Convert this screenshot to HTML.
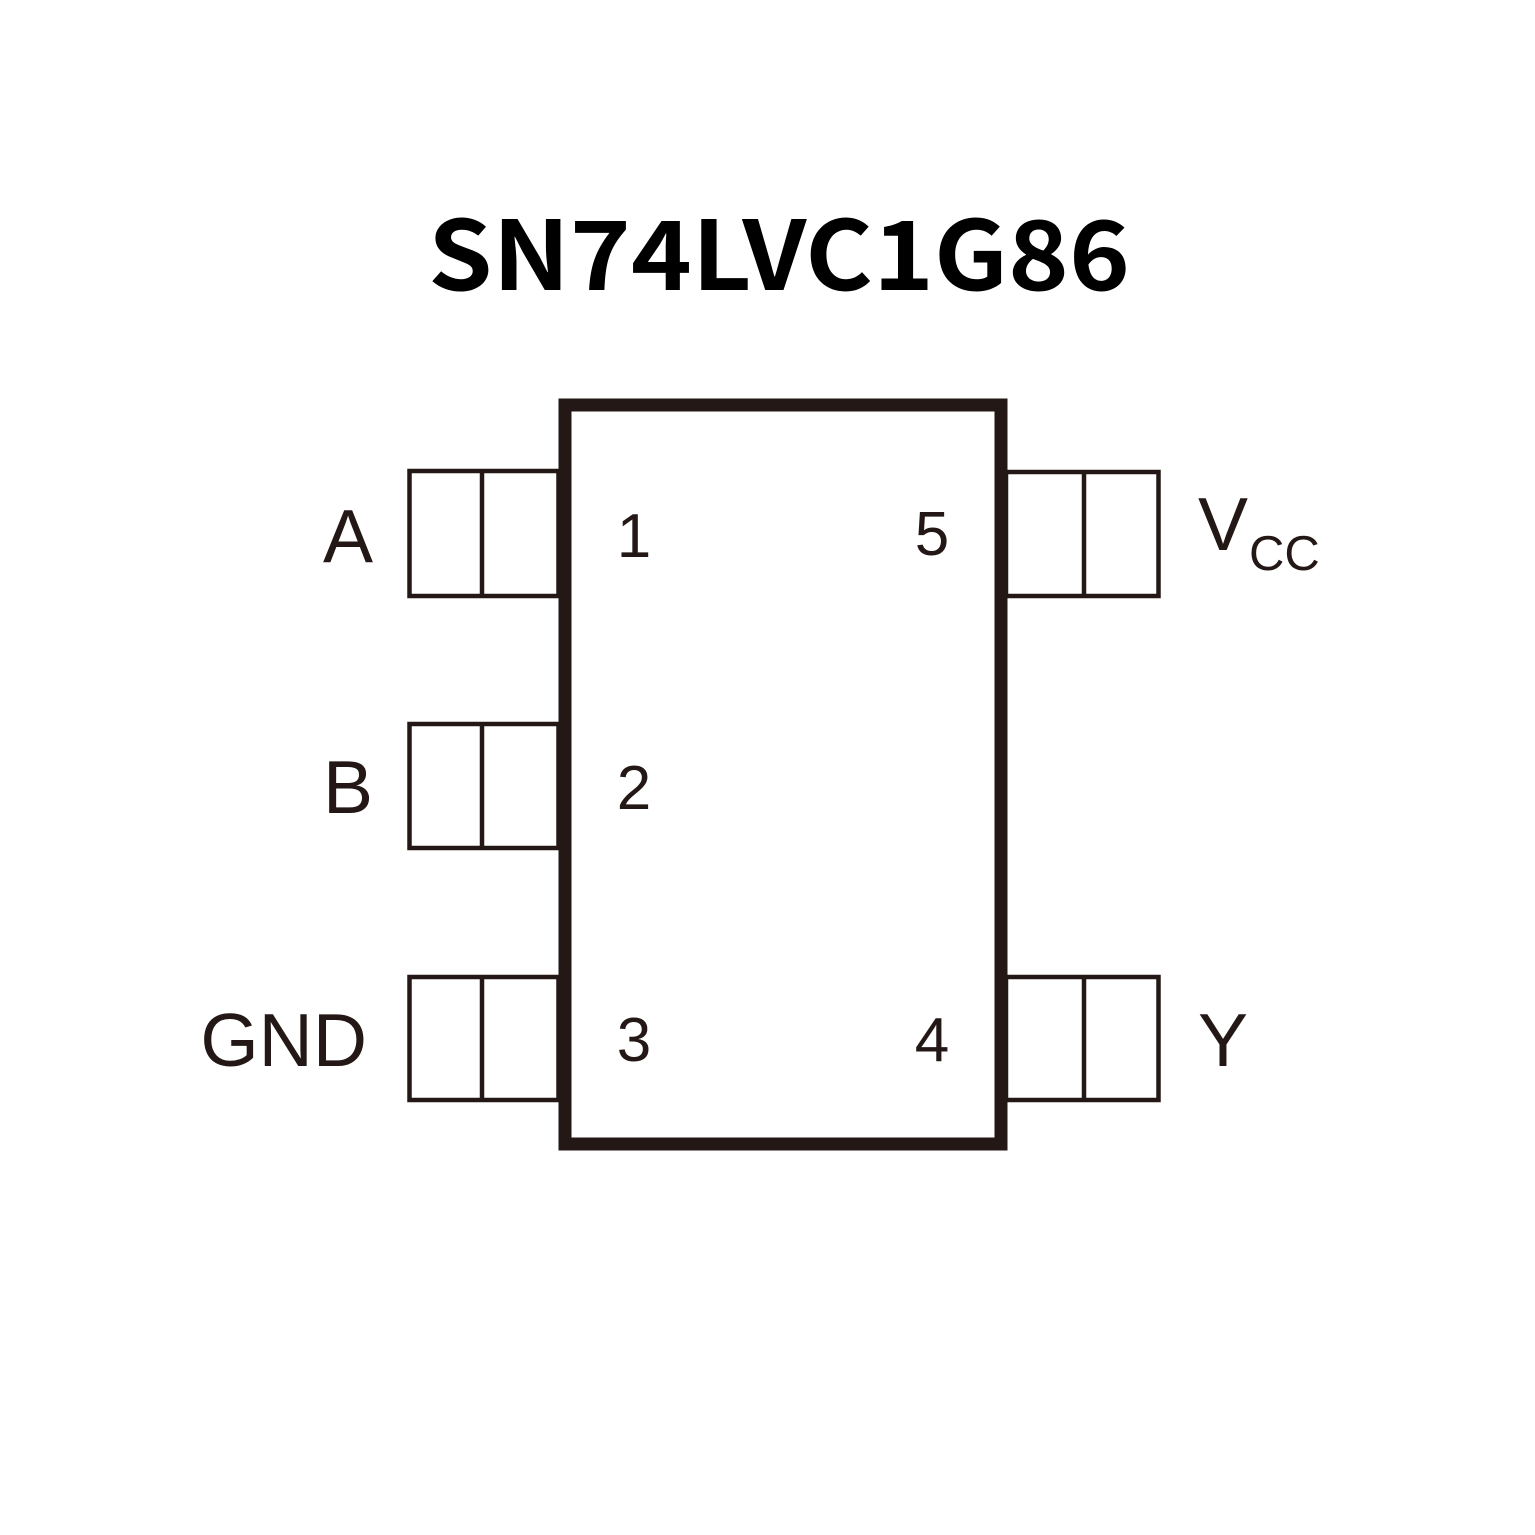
<!DOCTYPE html>
<html><head><meta charset="utf-8"><style>
html,body{margin:0;padding:0;background:#fff;}
svg{display:block;}
</style></head><body>
<svg width="1535" height="1535" viewBox="0 0 1535 1535" xmlns="http://www.w3.org/2000/svg">
<rect width="1535" height="1535" fill="#fff"/>
<text x="428" y="290" font-family="'Noto Sans CJK SC','DejaVu Sans',sans-serif" font-weight="700" font-size="96" textLength="702" lengthAdjust="spacingAndGlyphs" fill="#000">SN74LVC1G86</text>
<g fill="none" stroke="#231815">
<rect x="565" y="405" width="436" height="739" stroke-width="13"/>
<g stroke-width="4.5">
<rect x="409.5" y="471" width="149" height="125"/><line x1="482" y1="471" x2="482" y2="596"/>
<rect x="409.5" y="724" width="149" height="124"/><line x1="482" y1="724" x2="482" y2="848"/>
<rect x="409.5" y="977" width="149" height="123"/><line x1="482" y1="977" x2="482" y2="1100"/>
<rect x="1006" y="472" width="152.5" height="124"/><line x1="1084" y1="472" x2="1084" y2="596"/>
<rect x="1006" y="977" width="152.5" height="123"/><line x1="1084" y1="977" x2="1084" y2="1100"/>
</g>
</g>
<g font-family="'Liberation Sans',Arial,sans-serif" fill="#231815" font-size="75">
<text x="373" y="562" text-anchor="end">A</text>
<text x="373" y="813" text-anchor="end">B</text>
<text x="367" y="1066" text-anchor="end">GND</text>
<text x="1198" y="1066">Y</text>
<text x="1198" y="550">V</text>
<text x="1249" y="570" font-size="49">CC</text>
<text x="634" y="557" text-anchor="middle" font-size="62">1</text>
<text x="634" y="809" text-anchor="middle" font-size="62">2</text>
<text x="634" y="1061" text-anchor="middle" font-size="62">3</text>
<text x="932" y="1061" text-anchor="middle" font-size="62">4</text>
<text x="932" y="555" text-anchor="middle" font-size="62">5</text>
</g>
</svg>
</body></html>
